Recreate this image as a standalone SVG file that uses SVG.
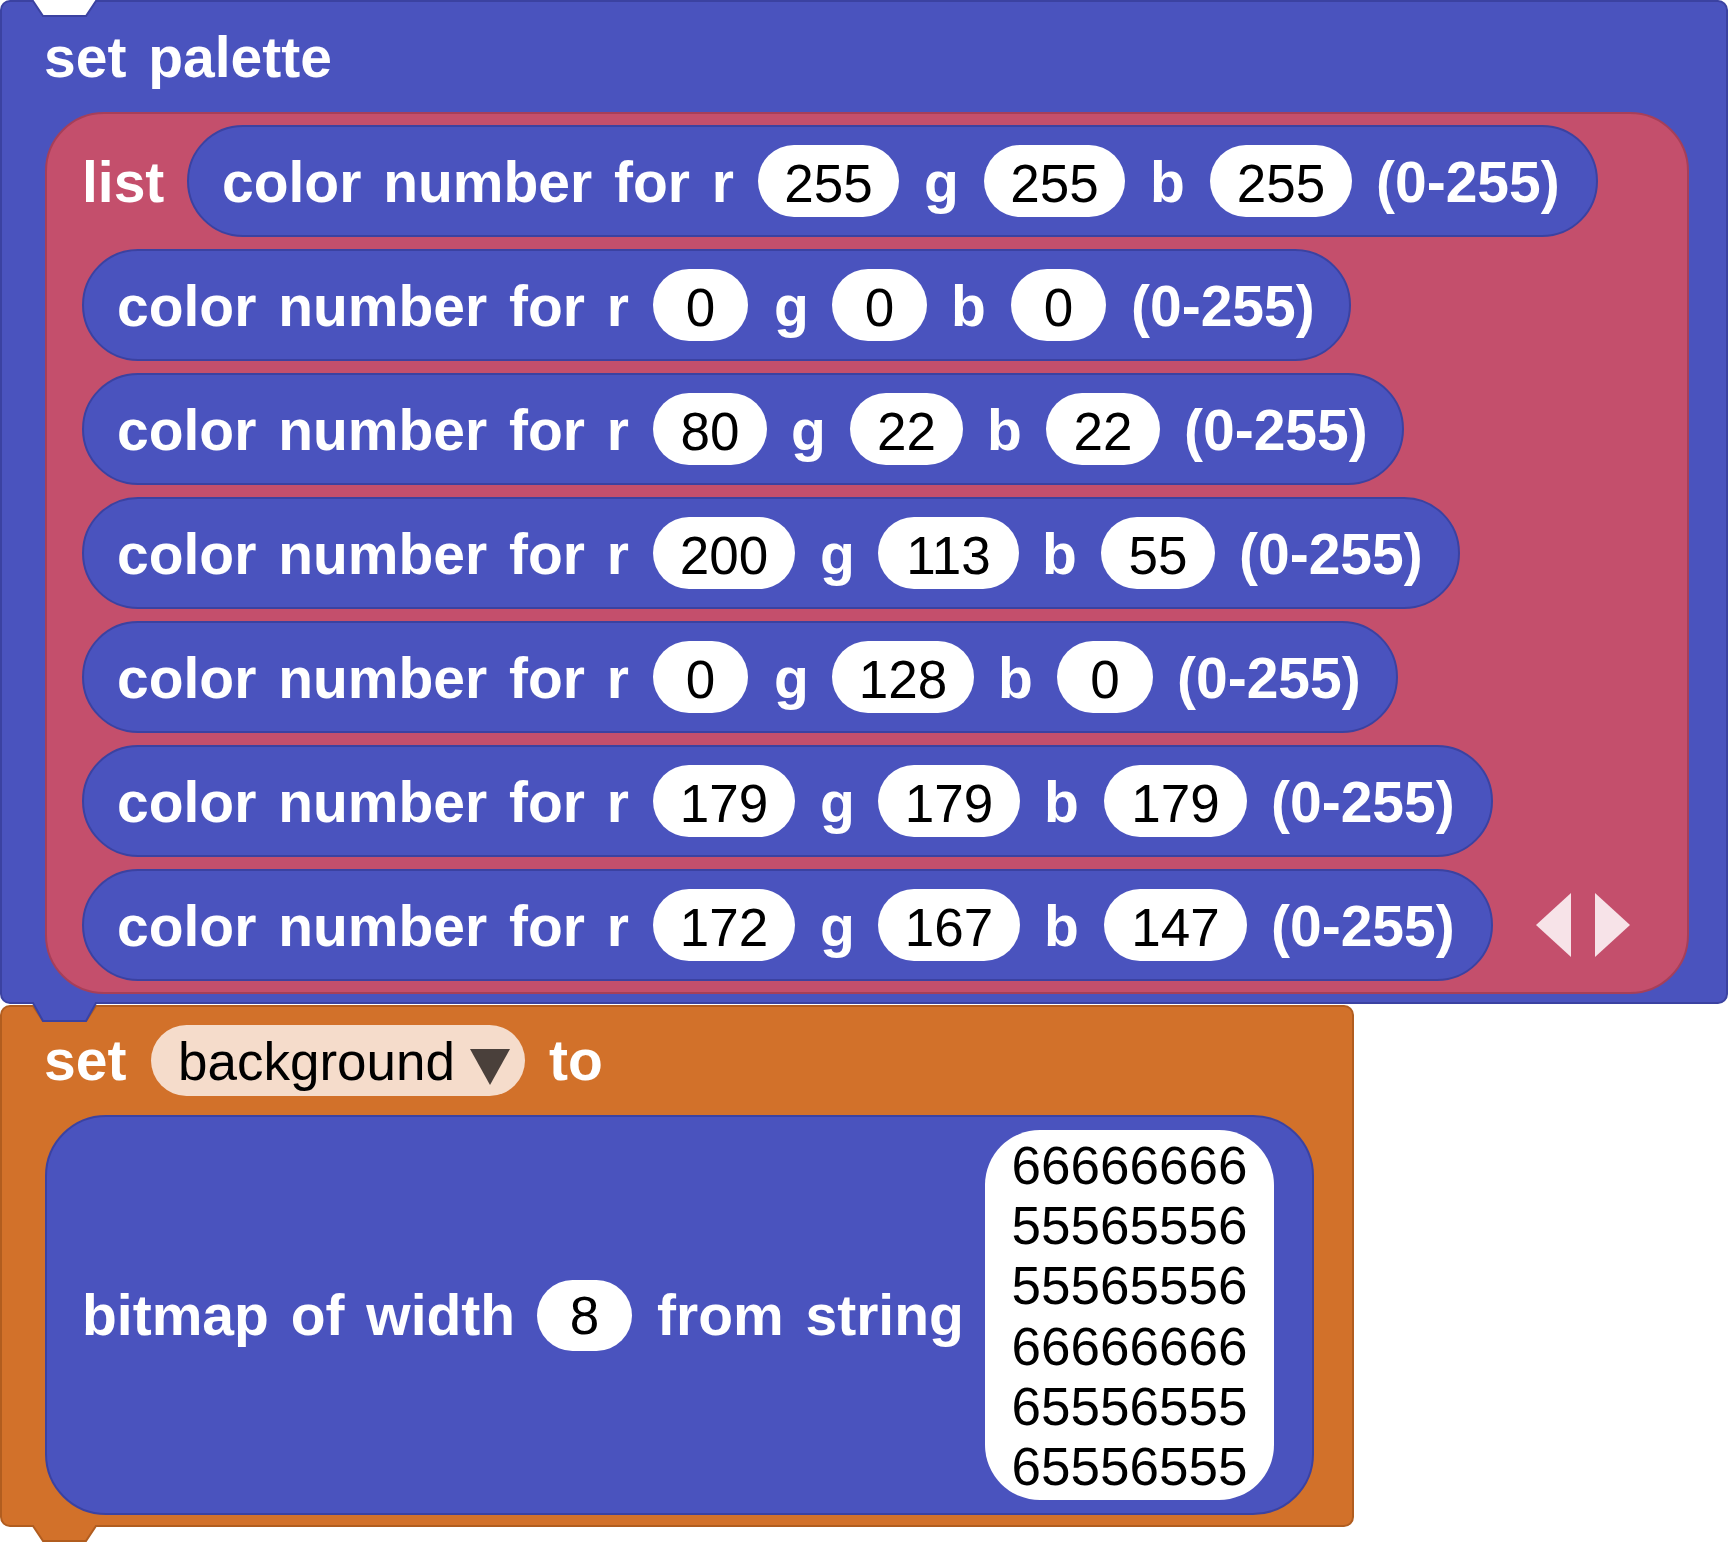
<svg xmlns="http://www.w3.org/2000/svg" width="1730" height="1542" viewBox="0 0 1730 1542">
<style>
.blk{fill:#4a53be;stroke:#3b42a1;stroke-width:2}
.lst{fill:#c44f6c;stroke:#a63f59;stroke-width:2}
.org{fill:#d2712a;stroke:#b15d1f;stroke-width:2}
.inp{fill:#ffffff}
.lbl{font-family:"Liberation Sans",Arial,sans-serif;font-weight:bold;font-size:57px;fill:#ffffff;word-spacing:6px}
.num{font-family:"Liberation Sans",Arial,sans-serif;font-size:53px;fill:#000000;text-anchor:middle}
.arw{fill:#f7e3e8}
</style>
<rect width="1730" height="1542" fill="#ffffff"/>

<g id="set-background">
<path class="org" d="M1,1015 a9,9 0 0 1 9,-9 H33 L43,1021 H86 L96,1006 H1344 a9,9 0 0 1 9,9 V1517 a9,9 0 0 1 -9,9 H96 L86,1541 H43 L33,1526 H10 a9,9 0 0 1 -9,-9 Z"/>
<text class="lbl" x="44" y="1080">set</text>
<rect x="151" y="1025" width="374" height="71" rx="35.5" fill="#f5dccb"/>
<text class="num" x="178" y="1080" style="text-anchor:start">background</text>
<polygon points="470,1049 510,1049 490,1085" fill="#4a403b"/>
<text class="lbl" x="549" y="1080">to</text>
<g id="bitmap">
<rect class="blk" x="46" y="1116" width="1267" height="398" rx="60"/>
<text class="lbl" x="82" y="1335">bitmap of width</text>
<rect class="inp" x="537" y="1280" width="95" height="71" rx="35.5"/>
<text class="num" x="584.5" y="1334">8</text>
<text class="lbl" x="657" y="1335">from string</text>
<rect class="inp" x="985" y="1130" width="289" height="370" rx="55"/>
<text class="num" x="1129.5" y="1184">66666666</text>
<text class="num" x="1129.5" y="1244">55565556</text>
<text class="num" x="1129.5" y="1304">55565556</text>
<text class="num" x="1129.5" y="1365">66666666</text>
<text class="num" x="1129.5" y="1425">65556555</text>
<text class="num" x="1129.5" y="1485">65556555</text>
</g>
</g>

<g id="set-palette">
<path class="blk" d="M1,10 a9,9 0 0 1 9,-9 H33 L43,16 H86 L96,1 H1718 a9,9 0 0 1 9,9 V994 a9,9 0 0 1 -9,9 H96 L86,1021 H43 L33,1003 H10 a9,9 0 0 1 -9,-9 Z"/>
<text class="lbl" x="44" y="77">set palette</text>
<g id="list">
<rect class="lst" x="46" y="113" width="1642" height="880" rx="58"/>
<text class="lbl" x="82" y="202">list</text>
<polygon class="arw" points="1571,893 1571,957 1536,925"/>
<polygon class="arw" points="1595,893 1595,957 1630,925"/>
</g>

<g id="color0">
<rect class="blk" x="188" y="126" width="1409" height="110" rx="55"/>
<text class="lbl" x="222" y="202">color number for r</text>
<rect class="inp" x="758" y="145" width="141" height="72" rx="36"/><text class="num" x="828.5" y="202">255</text>
<text class="lbl" x="924" y="202">g</text>
<rect class="inp" x="984" y="145" width="141" height="72" rx="36"/><text class="num" x="1054.5" y="202">255</text>
<text class="lbl" x="1150" y="202">b</text>
<rect class="inp" x="1210" y="145" width="142" height="72" rx="36"/><text class="num" x="1281" y="202">255</text>
<text class="lbl" x="1376" y="202">(0-255)</text>
</g>

<g id="color1">
<rect class="blk" x="83" y="250" width="1267" height="110" rx="55"/>
<text class="lbl" x="117" y="326">color number for r</text>
<rect class="inp" x="653" y="269" width="95" height="72" rx="36"/><text class="num" x="700.5" y="326">0</text>
<text class="lbl" x="774" y="326">g</text>
<rect class="inp" x="832" y="269" width="95" height="72" rx="36"/><text class="num" x="879.5" y="326">0</text>
<text class="lbl" x="951" y="326">b</text>
<rect class="inp" x="1011" y="269" width="95" height="72" rx="36"/><text class="num" x="1058.5" y="326">0</text>
<text class="lbl" x="1131" y="326">(0-255)</text>
</g>

<g id="color2">
<rect class="blk" x="83" y="374" width="1320" height="110" rx="55"/>
<text class="lbl" x="117" y="450">color number for r</text>
<rect class="inp" x="653" y="393" width="114" height="72" rx="36"/><text class="num" x="710" y="450">80</text>
<text class="lbl" x="791" y="450">g</text>
<rect class="inp" x="850" y="393" width="113" height="72" rx="36"/><text class="num" x="906.5" y="450">22</text>
<text class="lbl" x="987" y="450">b</text>
<rect class="inp" x="1046" y="393" width="114" height="72" rx="36"/><text class="num" x="1103" y="450">22</text>
<text class="lbl" x="1184" y="450">(0-255)</text>
</g>

<g id="color3">
<rect class="blk" x="83" y="498" width="1376" height="110" rx="55"/>
<text class="lbl" x="117" y="574">color number for r</text>
<rect class="inp" x="653" y="517" width="142" height="72" rx="36"/><text class="num" x="724" y="574">200</text>
<text class="lbl" x="820" y="574">g</text>
<rect class="inp" x="878" y="517" width="141" height="72" rx="36"/><text class="num" x="948.5" y="574">113</text>
<text class="lbl" x="1042" y="574">b</text>
<rect class="inp" x="1101" y="517" width="114" height="72" rx="36"/><text class="num" x="1158" y="574">55</text>
<text class="lbl" x="1239" y="574">(0-255)</text>
</g>

<g id="color4">
<rect class="blk" x="83" y="622" width="1314" height="110" rx="55"/>
<text class="lbl" x="117" y="698">color number for r</text>
<rect class="inp" x="653" y="641" width="95" height="72" rx="36"/><text class="num" x="700.5" y="698">0</text>
<text class="lbl" x="774" y="698">g</text>
<rect class="inp" x="832" y="641" width="142" height="72" rx="36"/><text class="num" x="903" y="698">128</text>
<text class="lbl" x="998" y="698">b</text>
<rect class="inp" x="1057" y="641" width="96" height="72" rx="36"/><text class="num" x="1105" y="698">0</text>
<text class="lbl" x="1177" y="698">(0-255)</text>
</g>

<g id="color5">
<rect class="blk" x="83" y="746" width="1409" height="110" rx="55"/>
<text class="lbl" x="117" y="822">color number for r</text>
<rect class="inp" x="653" y="765" width="142" height="72" rx="36"/><text class="num" x="724" y="822">179</text>
<text class="lbl" x="820" y="822">g</text>
<rect class="inp" x="878" y="765" width="142" height="72" rx="36"/><text class="num" x="949" y="822">179</text>
<text class="lbl" x="1044" y="822">b</text>
<rect class="inp" x="1104" y="765" width="143" height="72" rx="36"/><text class="num" x="1175.5" y="822">179</text>
<text class="lbl" x="1271" y="822">(0-255)</text>
</g>

<g id="color6">
<rect class="blk" x="83" y="870" width="1409" height="110" rx="55"/>
<text class="lbl" x="117" y="946">color number for r</text>
<rect class="inp" x="653" y="889" width="142" height="72" rx="36"/><text class="num" x="724" y="946">172</text>
<text class="lbl" x="820" y="946">g</text>
<rect class="inp" x="878" y="889" width="142" height="72" rx="36"/><text class="num" x="949" y="946">167</text>
<text class="lbl" x="1044" y="946">b</text>
<rect class="inp" x="1104" y="889" width="143" height="72" rx="36"/><text class="num" x="1175.5" y="946">147</text>
<text class="lbl" x="1271" y="946">(0-255)</text>
</g>
</g>
</svg>
